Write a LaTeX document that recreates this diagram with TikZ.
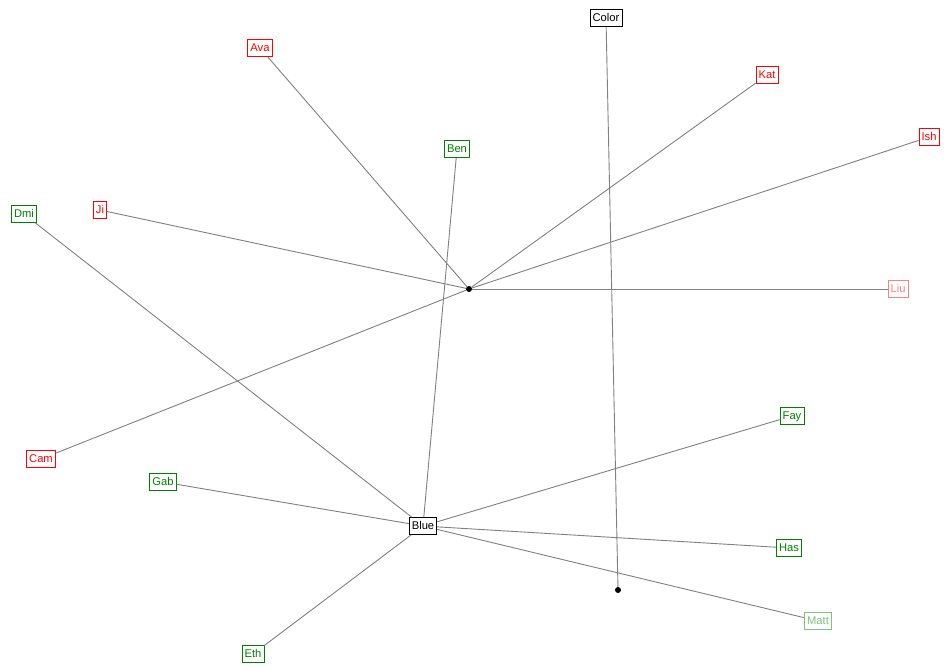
\documentclass[tikz,border=0pt]{standalone}
\usepackage{fontspec}
\setmainfont{Liberation Sans}
\definecolor{nred}{HTML}{FF0000}
\definecolor{ngreen}{HTML}{008000}
\definecolor{lred}{HTML}{FF8080}
\definecolor{lgreen}{HTML}{80C080}
\definecolor{edgegray}{HTML}{808080}
\tikzset{
  person/.style={draw, fill=white, font=\fontsize{11.2}{11.2}\selectfont, inner xsep=2.6pt, inner ysep=0pt, text height=9pt, text depth=2pt, minimum height=17pt, line width=0.8pt},
  redp/.style={person, draw=nred, text=nred},
  greenp/.style={person, draw=ngreen, text=ngreen},
  lredp/.style={person, draw=lred, text=lred},
  lgreenp/.style={person, draw=lgreen, text=lgreen},
  blackp/.style={person, draw=black, text=black},
  hub/.style={circle, fill=black, inner sep=0pt, minimum size=6pt},
  link/.style={draw=edgegray, line width=0.9pt}
}
\begin{document}
\begin{tikzpicture}[x=1pt,y=-1pt]
\useasboundingbox (0,0) rectangle (950,671);
\node[blackp] (color) at (606,18) {Color};
\node[redp] (ava) at (260,48) {Ava};
\node[redp] (kat) at (767,75) {Kat};
\node[redp] (ish) at (929,137) {Ish};
\node[greenp] (ben) at (457,149) {Ben};
\node[greenp] (dmi) at (24,214) {Dmi};
\node[redp] (ji) at (100,210) {Ji};
\node[lredp] (liu) at (898,289) {Liu};
\node[greenp] (fay) at (792,416) {Fay};
\node[redp] (cam) at (41,459) {Cam};
\node[greenp] (gab) at (163,482) {Gab};
\node[blackp] (blue) at (423,526) {Blue};
\node[greenp] (has) at (789,548) {Has};
\node[lgreenp] (matt) at (818,621) {Matt};
\node[greenp] (eth) at (253,654) {Eth};
\node[hub] (h1) at (469,289) {};
\node[hub] (h2) at (618,590) {};
\draw[link] (ava) -- (h1);
\draw[link] (kat) -- (h1);
\draw[link] (ish) -- (h1);
\draw[link] (ji) -- (h1);
\draw[link] (liu) -- (h1);
\draw[link] (cam) -- (h1);
\draw[link] (ben) -- (blue);
\draw[link] (dmi) -- (blue);
\draw[link] (gab) -- (blue);
\draw[link] (fay) -- (blue);
\draw[link] (has) -- (blue);
\draw[link] (matt) -- (blue);
\draw[link] (eth) -- (blue);
\draw[link] (color) -- (h2);
\end{tikzpicture}
\end{document}
